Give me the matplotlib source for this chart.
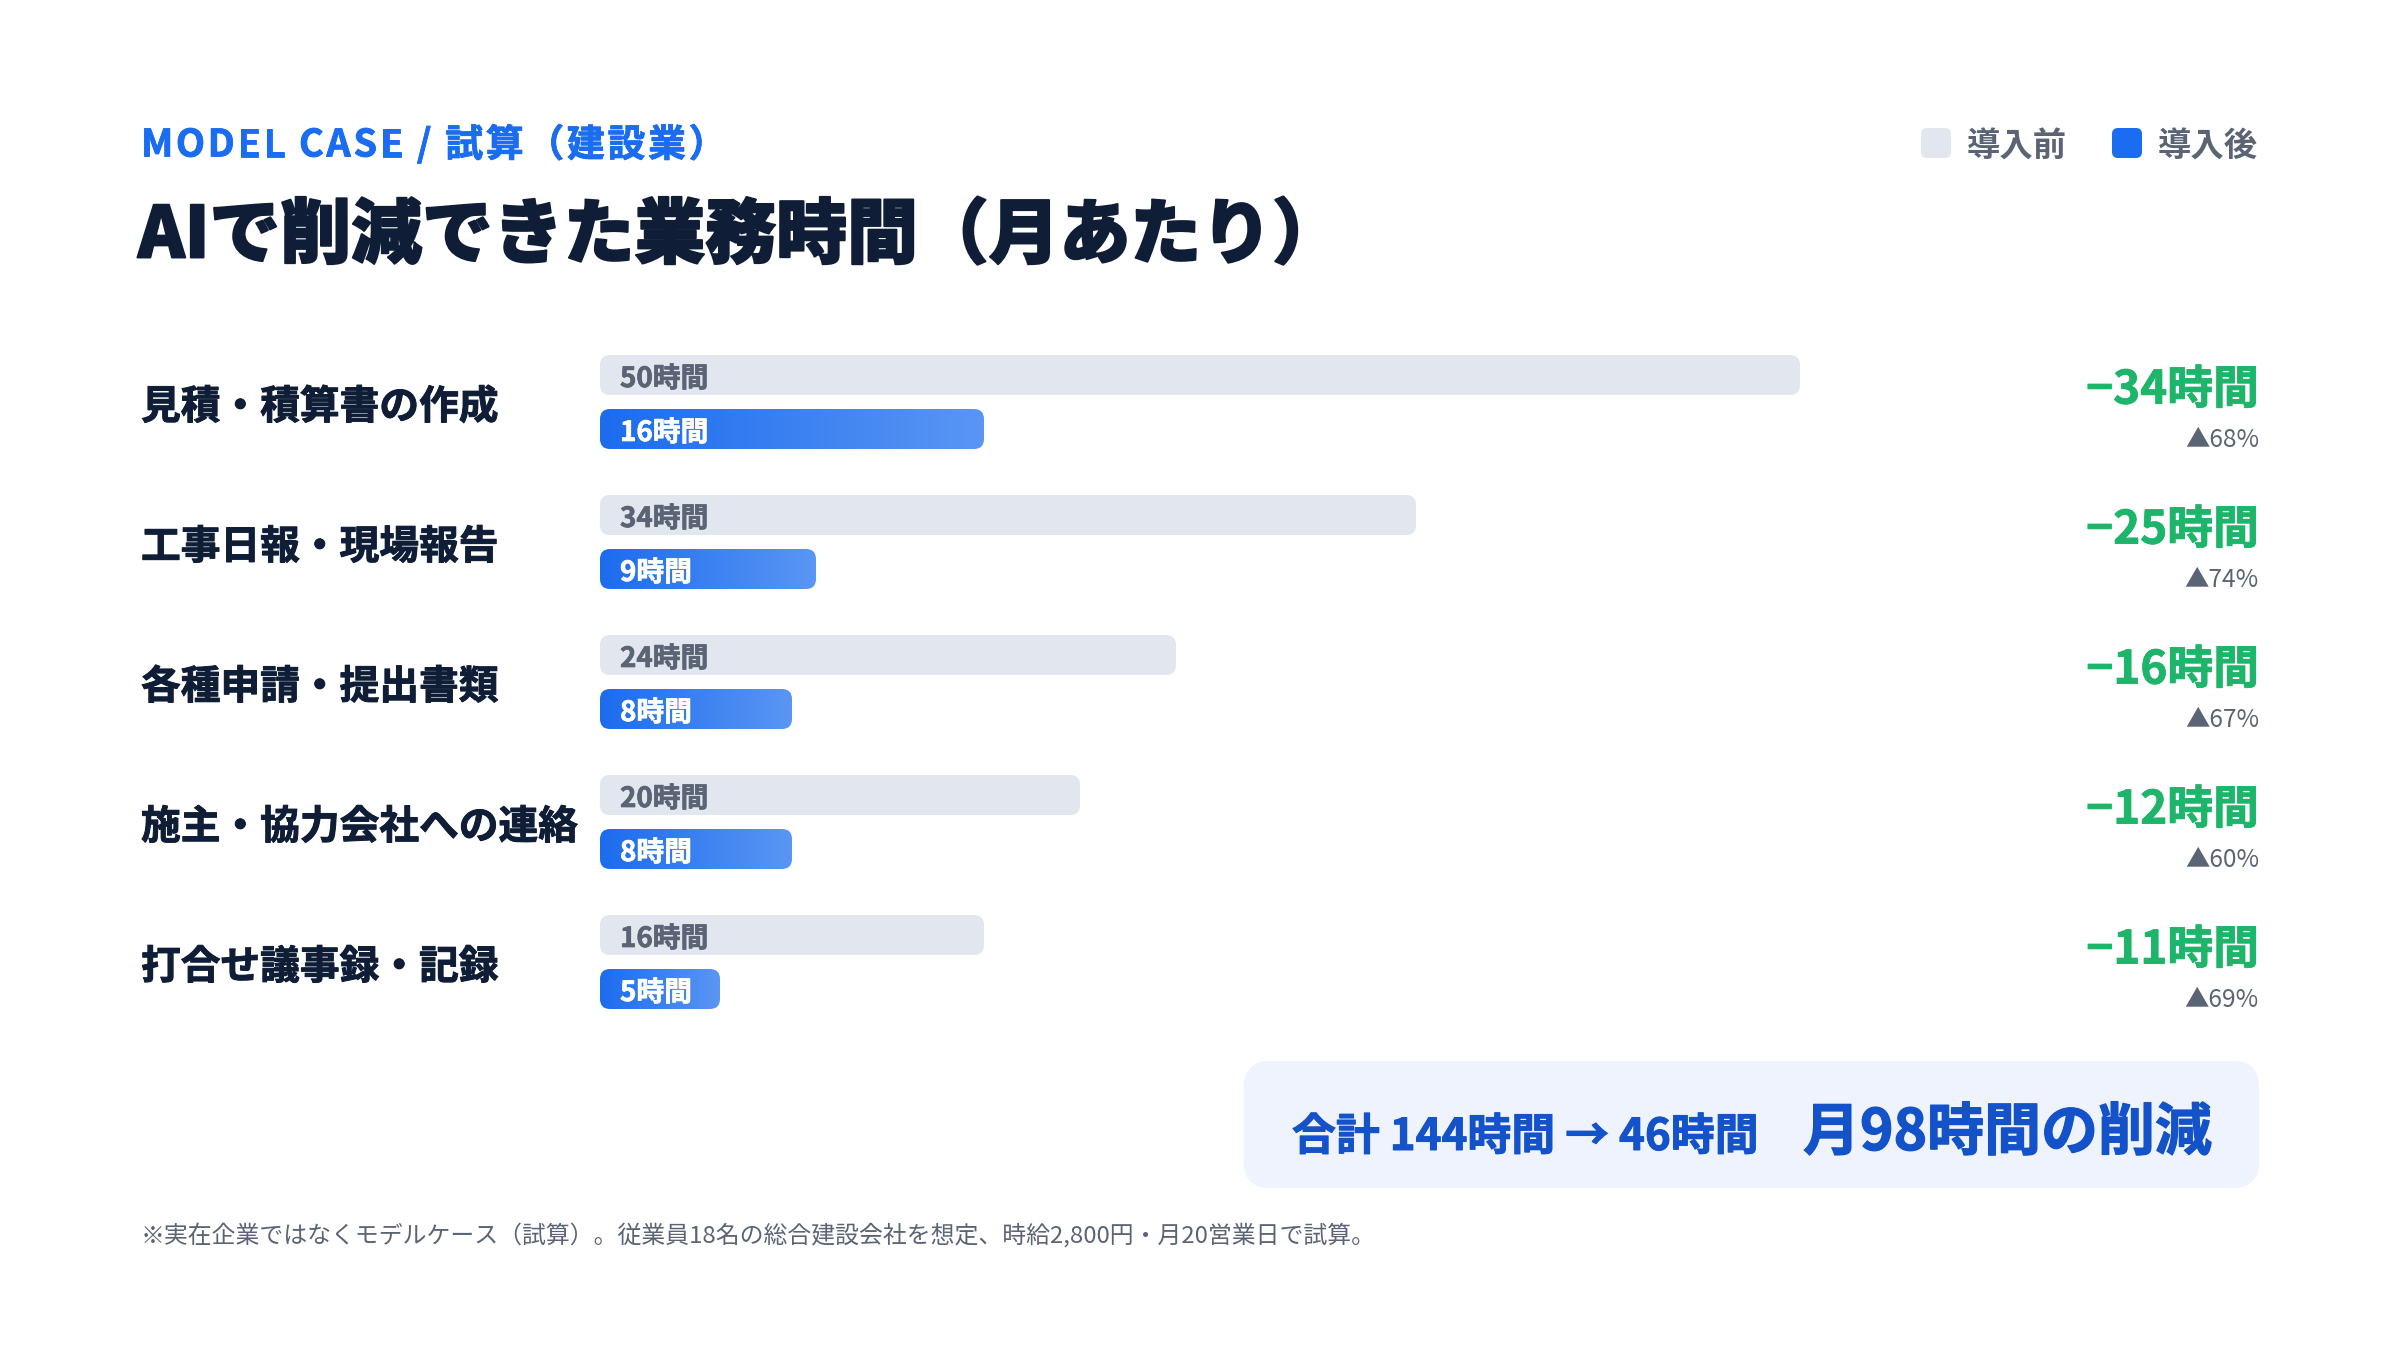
import numpy as np
import matplotlib
matplotlib.use("Agg")
import matplotlib.pyplot as plt
import matplotlib.patheffects as pe
from matplotlib.patches import FancyBboxPatch
from matplotlib.colors import LinearSegmentedColormap

# data
categories = ["見積・積算書の作成", "工事日報・現場報告", "各種申請・提出書類",
              "施主・協力会社への連絡", "打合せ議事録・記録"]
before = [50, 34, 24, 20, 16]
after = [16, 9, 8, 8, 5]

JP = ["Noto Sans CJK JP", "DejaVu Sans"]
plt.rcParams["font.family"] = JP

NAVY = "#0F1E36"
BLUE = "#1A6DF0"
GRAY_BAR = "#E2E7EF"
GRAY_TXT = "#5B6474"
GREEN = "#1DB56A"


def heavy(col, lw):
    # a bit heavier than Bold
    return [pe.withStroke(linewidth=lw, foreground=col)]


W, H = 2400, 1350
DY = 4  # small downward nudge for CJK vertical centering
fig = plt.figure(figsize=(12, 6.75), dpi=200)
fig.patch.set_facecolor("white")

# overlay axes in pixel coords for headings / decorations
deco = fig.add_axes([0, 0, 1, 1])
deco.set_xlim(0, W)
deco.set_ylim(H, 0)
deco.axis("off")

# letter-spaced kicker
renderer = fig.canvas.get_renderer()
x = 141
for ch in "MODEL CASE / 試算（建設業）":
    t = deco.text(x, 141 + DY, ch, fontsize=13.6, fontweight="bold", color=BLUE,
                  va="center", ha="left", path_effects=heavy(BLUE, 0.3))
    bb = t.get_window_extent(renderer)
    if ch == " ":
        w = 13.6 * 200 / 72 * 0.22
    else:
        w = bb.width
    x += w + 2.8

deco.text(138, 233 + DY, "AIで削減できた業務時間（月あたり）", fontsize=25.5, fontweight="black",
          color=NAVY, va="center", ha="left", path_effects=heavy(NAVY, 0.7))

# legend
for x0, col, lab in [(1921, GRAY_BAR, "導入前"), (2112, BLUE, "導入後")]:
    deco.add_patch(FancyBboxPatch((x0, 128), 30, 30, boxstyle="round,pad=0,rounding_size=6",
                                  fc=col, ec="none"))
    deco.text(x0 + 46, 143 + DY, lab, fontsize=12, fontweight="bold", color=GRAY_TXT,
              va="center", ha="left")

# bar axes: 24px per hour, 140px per row
px_hour = 24
px_row = 140
x_left, x_right = 600, 2259
y_top = 402 - px_row / 2
ax = fig.add_axes([x_left / W, 1 - (y_top + 5 * px_row) / H,
                   (x_right - x_left) / W, 5 * px_row / H])
xmax = (x_right - x_left) / px_hour
ax.set_xlim(0, xmax)
ax.set_ylim(4.5, -0.5)
ax.axis("off")

bh = 40 / px_row
off = 27 / px_row
rad = 10 / px_hour
asp = px_hour / px_row
dy = DY / px_row

cmap = LinearSegmentedColormap.from_list("bl", ["#1C6CEE", "#5A96F4"])
grad = np.linspace(0, 1, 256).reshape(1, -1)

for i, (cat, b, a) in enumerate(zip(categories, before, after)):
    # before bar
    yb = i - off
    ax.add_patch(FancyBboxPatch((0, yb - bh / 2), b, bh,
                                boxstyle=f"round,pad=0,rounding_size={rad}",
                                mutation_aspect=asp, fc=GRAY_BAR, ec="none"))
    ax.text(20 / px_hour, yb + dy, f"{b}時間", fontsize=10, fontweight="bold",
            color=GRAY_TXT, va="center", ha="left", path_effects=heavy(GRAY_TXT, 0.25))
    # after bar with gradient
    ya = i + off
    p = FancyBboxPatch((0, ya - bh / 2), a, bh,
                       boxstyle=f"round,pad=0,rounding_size={rad}",
                       mutation_aspect=asp, fc="none", ec="none")
    ax.add_patch(p)
    im = ax.imshow(grad, extent=[0, a, ya + bh / 2, ya - bh / 2], aspect="auto",
                   cmap=cmap, interpolation="bilinear", zorder=2)
    im.set_clip_path(p)
    ax.text(20 / px_hour, ya + dy, f"{a}時間", fontsize=10, fontweight="bold",
            color="white", va="center", ha="left", zorder=3,
            path_effects=heavy("white", 0.25))
    # category label
    ax.text(-(x_left - 141) / px_hour, i + 0.01 + dy, cat, fontsize=14.3, fontweight="bold",
            color=NAVY, va="center", ha="left", path_effects=heavy(NAVY, 0.35))
    # reduction
    d = b - a
    ax.text(xmax, i - 0.11 + dy, f"−{d}時間", fontsize=16.5, fontweight="bold",
            color=GREEN, va="center", ha="right", path_effects=heavy(GREEN, 0.3))
    ax.text(xmax, i + 0.245 + dy, f"▲{round(d / b * 100)}%", fontsize=8.8,
            color=GRAY_TXT, va="center", ha="right")

ax.set_xlim(0, xmax)
ax.set_ylim(4.5, -0.5)

# summary box
tb, ta = sum(before), sum(after)
deco.add_patch(FancyBboxPatch((1244, 1061), 1015, 127,
                              boxstyle="round,pad=0,rounding_size=26",
                              fc="#EEF3FE", ec="none"))
deco.text(1292, 1133 + DY, f"合計 {tb}時間 → {ta}時間", fontsize=15.8, fontweight="bold",
          color="#1352C8", va="center", ha="left", path_effects=heavy("#1352C8", 0.35))
deco.text(2212, 1129 + DY, f"月{tb - ta}時間の削減", fontsize=20.5, fontweight="bold",
          color="#1352C8", va="center", ha="right", path_effects=heavy("#1352C8", 0.45))

# footnote
deco.text(141, 1231 + DY, "※実在企業ではなくモデルケース（試算）。従業員18名の総合建設会社を想定、"
          "時給2,800円・月20営業日で試算。", fontsize=8.6, color=GRAY_TXT,
          va="center", ha="left")

fig.savefig("out.png", dpi=200, facecolor="white")
